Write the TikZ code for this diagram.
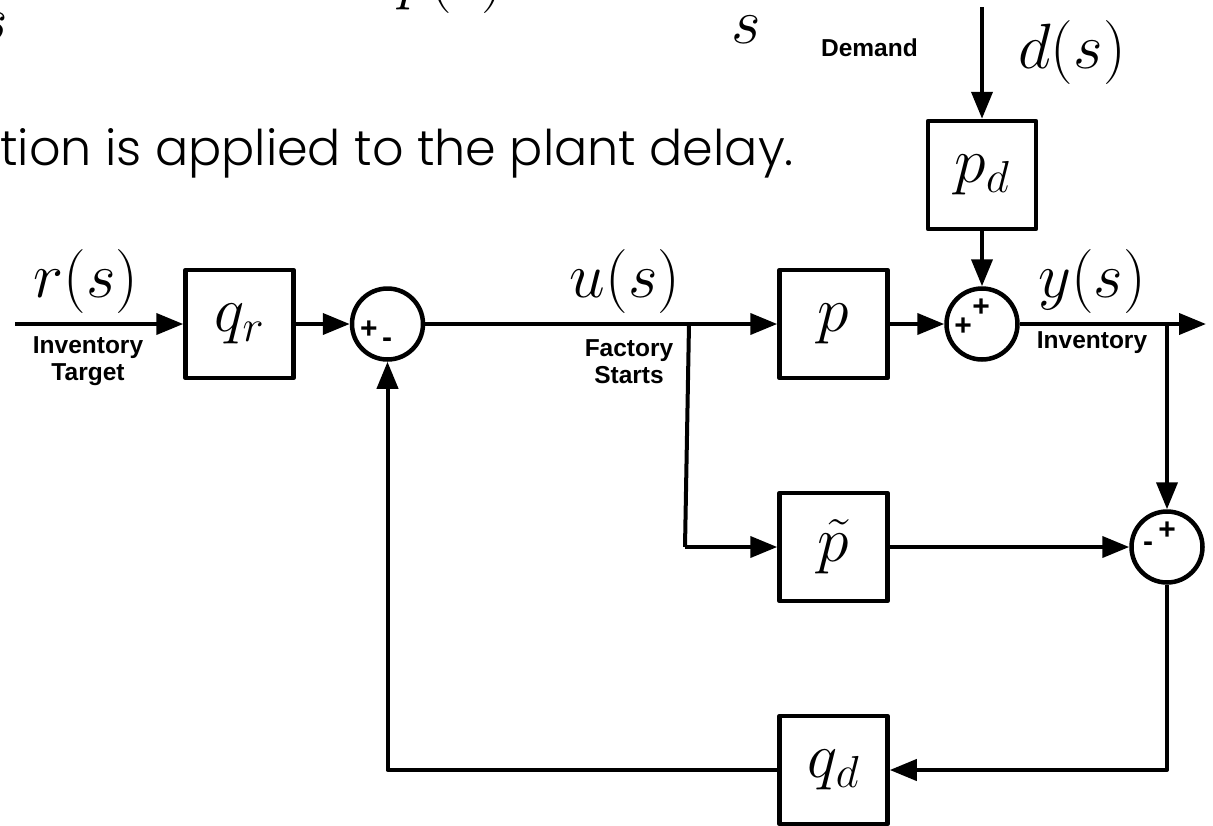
\documentclass[tikz,border=0pt]{standalone}
\usepackage{fix-cm}
\usepackage[no-math]{fontspec}
\setmainfont{Liberation Sans}
\newfontfamily\geo{Poppins Light}
\usetikzlibrary{arrows.meta}
\tikzset{
  blk/.style={draw, line width=4.5pt, minimum width=108pt, minimum height=108pt, inner sep=0pt, line join=round, font=\fontsize{64}{64}\selectfont},
  sumc/.style={draw, circle, line width=4.5pt, minimum size=71pt, inner sep=0pt},
  sig/.style={line width=4pt, line join=round, -{Triangle[length=27pt,width=21pt]}},
  wire/.style={line width=4pt, line join=round},
  lab/.style={font=\fontsize{24.5}{27}\selectfont\bfseries, align=center, inner sep=0pt},
  mth/.style={font=\fontsize{64}{64}\selectfont, inner sep=0pt},
  sgn/.style={font=\fontsize{30}{30}\selectfont\bfseries, inner sep=0pt},
  sent/.style={font=\geo\fontsize{49.2}{50}\selectfont, inner sep=0pt}
}
\begin{document}
\begin{tikzpicture}[x=1pt, y=-1pt]
\useasboundingbox (0,0) rectangle (1213,825);
\clip (0,0) rectangle (1213,825);
\fill[white] (0,0) rectangle (1213,825);

% cut-off text from the slide
\node[mth, anchor=base east] (s1) at (8,40) {$s$};
\node[mth, anchor=base west] (pfun) at (398,-3) {$p(s)$};
\node[mth, anchor=base west] (s2) at (731,43) {$s$};
\node[sent, anchor=base east] (sentence) at (794,165) {ation is applied to the plant delay.};

% blocks
\node[blk] (qr) at (239.5,324) {$q_r$};
\node[sumc] (sum1) at (387.5,324) {};
\node[blk] (p) at (833.5,324) {$p$};
\node[sumc] (sum2) at (982,324) {};
\node[blk] (pd) at (982,175) {$p_d$};
\node[blk] (pt) at (833.5,547) {$\tilde{p}$};
\node[sumc] (sum3) at (1167,547) {};
\node[blk] (qd) at (833.5,770) {$q_d$};

% signs
\node[sgn] (s1p) at (369,330) {+};
\node[sgn] (s1m) at (387,343) {-};
\node[sgn] (s2a) at (981,308) {+};
\node[sgn] (s2b) at (963,327) {+};
\node[sgn] (s3p) at (1167,531) {+};
\node[sgn] (s3m) at (1148,547) {-};

% free ends and corners
\coordinate (rin) at (15,324);
\coordinate (br) at (689,324);
\coordinate (brb) at (685,547);
\coordinate (dtop) at (982,7);
\coordinate (yo) at (1167,324);
\coordinate (yend) at (1206,324);

% connectors
\draw[sig] (rin) -- (qr.west);
\draw[sig] (qr.east) -- (sum1.west);
\draw[sig] (sum1.east) -- (p.west);
\draw[wire] (br) -- (brb);
\draw[sig] (brb) -- (pt.west);
\draw[sig] (p.east) -- (sum2.west);
\draw[sig] (dtop) -- (pd.north);
\draw[sig] (pd.south) -- (sum2.north);
\draw[sig] (sum2.east) -- (yend);
\draw[sig] (yo) -- (sum3.north);
\draw[sig] (pt.east) -- (sum3.west);
\draw[sig] (sum3.south) |- (qd.east);
\draw[sig] (qd.west) -| (sum1.south);

% labels
\node[mth, anchor=base] (rs) at (86,297) {$r(s)$};
\node[mth, anchor=base] (us) at (625,297) {$u(s)$};
\node[mth, anchor=base] (ys) at (1092,297) {$y(s)$};
\node[mth, anchor=base] (ds) at (1072,68) {$d(s)$};
\node[lab] (invtarget) at (88,361) {Inventory\\Target};
\node[lab] (factory) at (629,362) {Factory\\Starts};
\node[lab] (invout) at (1092,343) {Inventory};
\node[lab, anchor=east] (demand) at (918,48) {Demand};
\end{tikzpicture}
\end{document}
